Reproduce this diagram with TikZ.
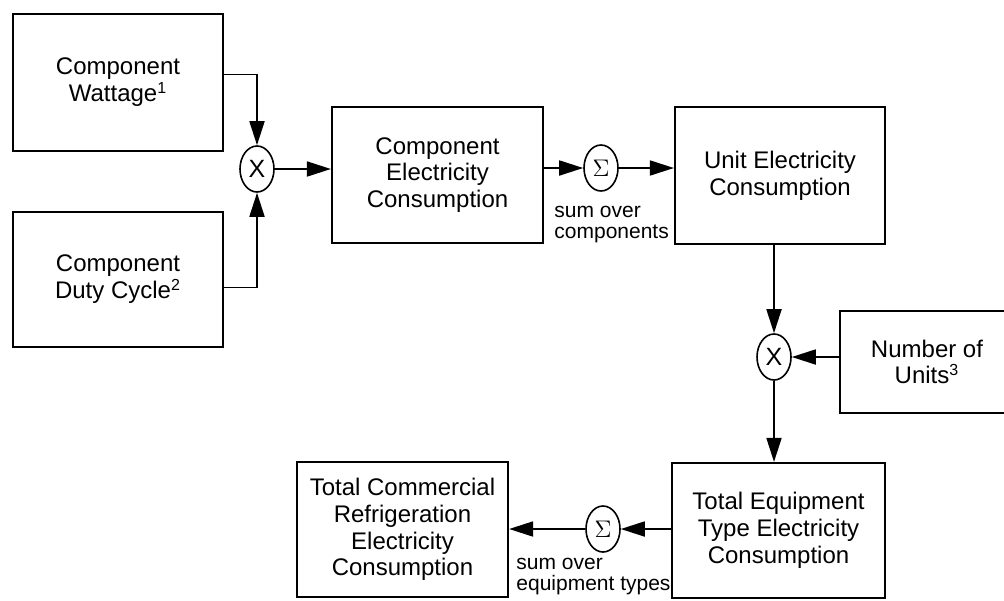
\documentclass[tikz,border=0pt]{standalone}
\usepackage[no-math]{fontspec}
\setmainfont{Liberation Sans}
\usetikzlibrary{shapes.geometric,arrows.meta}

\tikzset{
  blk/.style={draw,line width=1.1pt,align=center,inner sep=1pt,font=\fontsize{12}{13.4}\selectfont},
  op/.style={draw,ellipse,line width=0.8pt,inner sep=0pt,minimum width=17pt,minimum height=23pt,font=\fontsize{12.5}{13}\selectfont},
  flow/.style={line width=0.9pt,-{Triangle[length=12pt,width=7.5pt]}},
  note/.style={align=left,inner sep=0pt,font=\fontsize{10.5}{10.2}\selectfont}
}

\begin{document}
\begin{tikzpicture}[x=0.5pt,y=-0.5pt]
	\useasboundingbox (0,0) rectangle (1004,600);
	% boxes
	\node[blk,minimum width=105pt,minimum height=68.5pt] (watt) at (118,82.5) {Component\\Wattage\textsuperscript{1}};
	\node[blk,minimum width=105pt,minimum height=67.5pt] (duty) at (118,279.5) {Component\\Duty Cycle\textsuperscript{2}};
	\node[blk,minimum width=105.5pt,minimum height=68pt] (cons) at (437.5,175) {Component\\Electricity\\Consumption};
	\node[blk,minimum width=105pt,minimum height=68.5pt] (unit) at (780,175.5) {Unit Electricity\\Consumption};
	\node[blk,minimum width=87pt,minimum height=51pt] (count) at (927,362) {Number of\\Units\textsuperscript{3}};
	\node[blk,minimum width=106.5pt,minimum height=67.5pt] (equip) at (778.5,530.5) {Total Equipment\\Type Electricity\\Consumption};
	\node[blk,minimum width=105.5pt,minimum height=67.5pt] (total) at (402.5,529.5) {Total Commercial\\Refrigeration\\Electricity\\Consumption};
	% operators
	\node[op] (mult1) at (257,169) {X};
	\node[op] (sum1) at (601,168) {$\Sigma$};
	\node[op] (mult2) at (774,357) {X};
	\node[op] (sum2) at (603,529) {$\Sigma$};
	% notes
	\node[note,anchor=north west] (sumcomp) at (554,206) {sum over\\components};
	\node[note,anchor=north west] (sumtype) at (516,558) {sum over\\equipment types};
	% arrows
	\draw[flow] ([yshift=4pt]watt.east) -| (mult1.north);
	\draw[flow] ([yshift=-4pt]duty.east) -| (mult1.south);
	\draw[flow] (mult1) -- (mult1 -| cons.west);
	\draw[flow] (cons.east |- sum1) -- (sum1);
	\draw[flow] (sum1) -- (sum1 -| unit.west);
	\draw[flow] (unit.south -| mult2) -- (mult2);
	\draw[flow] (count.west |- mult2) -- (mult2);
	\draw[flow] (mult2) -- (mult2 |- equip.north);
	\draw[flow] (equip.west |- sum2) -- (sum2);
	\draw[flow] (sum2) -- (sum2 -| total.east);
\end{tikzpicture}
\end{document}
